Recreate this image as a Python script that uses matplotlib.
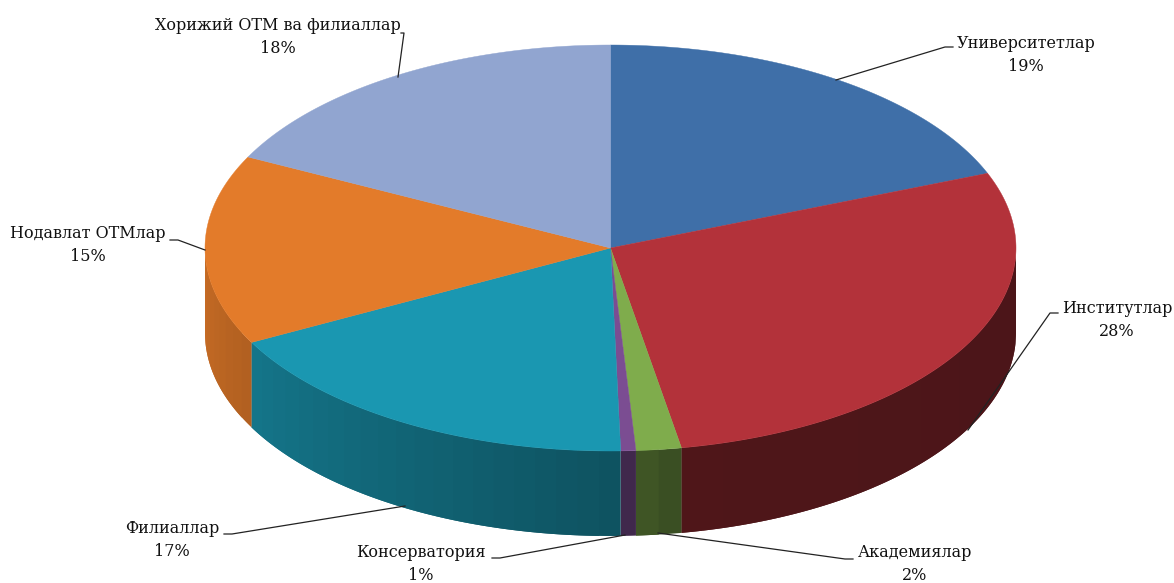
import matplotlib
matplotlib.use('Agg')
import matplotlib.pyplot as plt
import numpy as np

names = ['Университетлар', 'Институтлар', 'Академиялар', 'Консерватория',
         'Филиаллар', 'Нодавлат ОТМлар', 'Хорижий ОТМ ва филиаллар']
percents = [19, 28, 2, 1, 17, 15, 18]
# unrounded shares as measured from the slice edges
shares = [19.0, 28.2, 1.8, 0.6, 17.7, 15.1, 17.6]
colors = ['#3f6fa8', '#b3323a', '#7fac4c', '#7b4d92', '#1a97b1', '#e37b2a', '#91a5d0']

# pie geometry in pixels
cx, cy = 610.5, 248
rx, ry = 405.5, 203
depth = 85

# side wall brightness against angle (clockwise from the top)
shade_angles = [90, 170, 180, 270]
shade_values = [0.42, 0.44, 0.55, 0.88]

# label centres and leader lines
label_pos = [(1026, 55), (1117, 320), (915, 564), (421, 564), (172, 540), (88, 245), (278, 37)]
leaders = [
    [(836, 80), (945, 47), (953, 47)],
    [(968, 430), (1050, 313), (1058, 313)],
    [(658, 533), (845, 559), (853, 559)],
    [(625, 535), (500, 558), (492, 558)],
    [(405, 506), (232, 534), (224, 534)],
    [(205, 250), (178, 240), (170, 240)],
    [(398, 77), (404, 33), (401, 33)],
]


def edge(theta, drop=0):
    x = cx + rx * np.sin(np.radians(theta))
    y = cy - ry * np.cos(np.radians(theta)) + drop
    return x, y


fig = plt.figure(figsize=(11.74, 5.83), dpi=100)
ax = fig.add_axes([0, 0, 1, 1])
ax.set_xlim(0, 1174)
ax.set_ylim(583, 0)
ax.axis('off')

bounds = np.concatenate([[0], np.cumsum(shares)]) / np.sum(shares) * 360

# side walls, strips overlap the next one so no seams show
for i in range(len(shares)):
    a0 = max(bounds[i], 90)
    a1 = min(bounds[i + 1], 270)
    if a1 <= a0:
        continue
    steps = max(int((a1 - a0) / 3), 1)
    ticks = np.linspace(a0, a1, steps + 1)
    base = np.array(matplotlib.colors.to_rgb(colors[i]))
    for k in range(steps):
        t0 = ticks[k]
        t1 = ticks[min(k + 2, steps)]
        th = np.linspace(t0, t1, 8)
        xt, yt = edge(th)
        xb, yb = edge(th, depth)
        shade = np.interp((ticks[k] + ticks[k + 1]) / 2, shade_angles, shade_values)
        ax.fill(np.concatenate([xt, xb[::-1]]), np.concatenate([yt, yb[::-1]]),
                color=base * shade, lw=0, zorder=2)

# top face
for i in range(len(shares)):
    th = np.linspace(bounds[i], bounds[i + 1], 200)
    xt, yt = edge(th)
    ax.fill(np.concatenate([[cx], xt]), np.concatenate([[cy], yt]),
            color=colors[i], lw=0.3, zorder=3)

for line in leaders:
    xs, ys = zip(*line)
    ax.plot(xs, ys, color='#222222', lw=0.9, zorder=4)

for name, pct, pos in zip(names, percents, label_pos):
    ax.text(pos[0], pos[1], name + '\n' + str(pct) + '%', ha='center', va='center',
            family='DejaVu Serif', fontsize=11.5,
            color='#111111', linespacing=1.45, zorder=5)

fig.savefig('out.png', dpi=100, facecolor='white')
